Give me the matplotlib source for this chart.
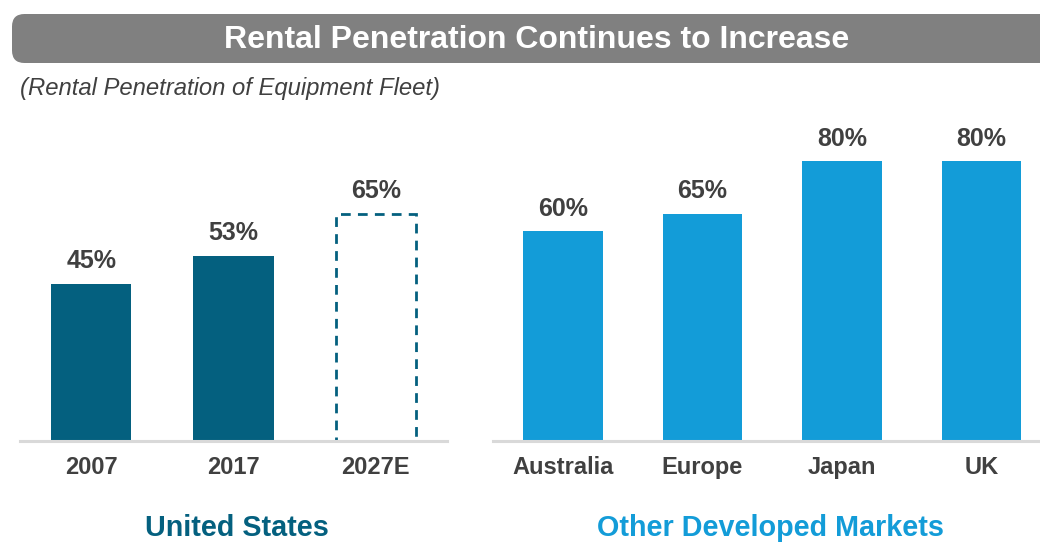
import matplotlib.pyplot as plt
from matplotlib.patches import FancyBboxPatch

plt.rcParams['font.family'] = ['Liberation Sans', 'DejaVu Sans']

us_years = ['2007', '2017', '2027E']
us_values = [45, 53, 65]
markets = ['Australia', 'Europe', 'Japan', 'UK']
market_values = [60, 65, 80, 80]

dark = '#04607F'
light = '#139CD8'
txt = '#404040'

W, H = 1040, 543
fig = plt.figure(figsize=(W / 100, H / 100), dpi=100)

# header bar
hdr = FancyBboxPatch((12 / W, (H - 63) / H), 1.1, 49 / H,
                     boxstyle='round,pad=0,rounding_size=0.012',
                     transform=fig.transFigure, facecolor='#808080',
                     edgecolor='none', mutation_aspect=W / H)
fig.patches.append(hdr)
fig.text(537 / W, (H - 48) / H, 'Rental Penetration Continues to Increase',
         color='white', fontsize=23, fontweight='bold', ha='center', va='baseline')
fig.text(20 / W, (H - 88) / H, '(Rental Penetration of Equipment Fleet)',
         color=txt, fontsize=17.2, style='italic', ha='left', va='center')

bottom = (H - 441) / H
height = 350 / H

ax1 = fig.add_axes([20 / W, bottom, 427 / W, height])
ax2 = fig.add_axes([493 / W, bottom, (W - 493) / W, height])

x1 = range(len(us_years))
bars = ax1.bar(x1, us_values, width=0.565, color=dark)
# projected year drawn as dashed outline
bars[-1].set_facecolor('none')
bars[-1].set_edgecolor(dark)
bars[-1].set_linestyle((0, (3.5, 2.6)))
bars[-1].set_linewidth(2)
ax1.set_xlim(-0.5, 2.5)

x2 = range(len(markets))
ax2.bar(x2, market_values, width=0.57, color=light)
ax2.set_xlim(-0.5, 3.42)

for ax, cats, vals in [(ax1, us_years, us_values), (ax2, markets, market_values)]:
    ax.set_ylim(0, 100)
    for s in ax.spines.values():
        s.set_visible(False)
    ax.axhline(0, color='#D9D9D9', lw=2.2, clip_on=False)
    ax.set_yticks([])
    ax.set_xticks(range(len(cats)))
    ax.set_xticklabels(cats, fontsize=17, fontweight='bold', color=txt)
    ax.tick_params(axis='x', length=0, pad=11)
    for i, v in enumerate(vals):
        ax.text(i, v + 4.3, f'{v}%', ha='center', va='baseline',
                fontsize=18, fontweight='bold', color=txt)

fig.text(237 / W, (H - 536) / H, 'United States', color=dark,
         fontsize=20.7, fontweight='bold', ha='center', va='baseline')
fig.text(770 / W, (H - 536) / H, 'Other Developed Markets', color=light,
         fontsize=20.7, fontweight='bold', ha='center', va='baseline')

fig.savefig('out.png', dpi=100)
